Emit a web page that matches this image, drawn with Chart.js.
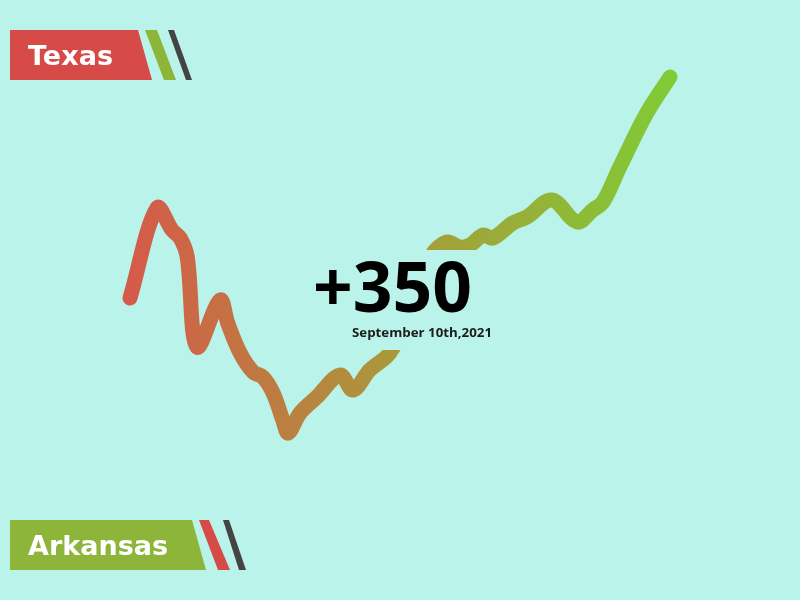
<!DOCTYPE html>
<html>
<head>
<meta charset="utf-8">
<script src="https://cdn.jsdelivr.net/npm/chart.js@4.4.0/dist/chart.umd.min.js"></script>
<style>
  html, body { margin: 0; padding: 0; background: #b9f3ea; }
  #wrap { width: 800px; height: 600px; position: relative; }
</style>
</head>
<body>
<div id="wrap"><canvas id="c"></canvas></div>
<script>
// Data
const days = [0, 5, 7.8, 9.3, 10.6, 12.4, 16.7, 18.1, 20.4, 22.8, 24.6, 26.5, 28.3, 29.3, 31.5, 34.6, 38.9, 41.3, 44.4, 48.1, 52.8, 55.9, 58.7, 61.1, 63, 65.4, 67.2, 70.9, 73.5, 78.1, 82.8, 85.7, 87.6, 90.7, 95.7, 100];
const values = [202, 292, 270, 262, 243, 153, 200, 177, 147, 128, 123, 107, 80, 67, 87, 103, 125, 110, 130, 147, 195, 245, 258, 253, 255, 265, 262, 277, 283, 300, 278, 290, 298, 333, 387, 423];
const topLabel = "Texas";
const bottomLabel = "Arkansas";
const headline = "+350";
const dateText = "September 10th,2021";

const BG = '#b9f3ea';
const RED = '#d64a47';
const GREEN = '#8db53a';
const DARK = '#444444';

const points = days.map((d, i) => ({ x: d, y: values[i] }));

function fitText(c, text, x, y, width, font) {
  c.save();
  c.font = font;
  const w = c.measureText(text).width;
  c.translate(x, y);
  c.scale(width / w, 1);
  c.fillText(text, 0, 0);
  c.restore();
}

const overlay = {
  id: 'overlay',
  beforeDraw(chart) {
    const c = chart.ctx;
    c.save();
    c.fillStyle = BG;
    c.fillRect(0, 0, chart.width, chart.height);
    c.restore();
  },
  afterDatasetsDraw(chart) {
    const c = chart.ctx;
    c.save();
    // cover box behind headline
    c.fillStyle = BG;
    c.fillRect(300, 250, 190, 100);

    c.fillStyle = '#000';
    c.textBaseline = 'alphabetic';
    c.textAlign = 'left';
    fitText(c, headline, 313, 312, 159, 'bold 70px "Open Sans", sans-serif');
    c.fillStyle = '#1c1c1c';
    fitText(c, dateText, 352, 337, 140, 'bold 13px "Open Sans", sans-serif');

    function poly(pts, col) {
      c.beginPath();
      c.moveTo(pts[0][0], pts[0][1]);
      for (let i = 1; i < pts.length; i++) c.lineTo(pts[i][0], pts[i][1]);
      c.closePath();
      c.fillStyle = col;
      c.fill();
    }
    poly([[10, 30], [138, 30], [152, 80], [10, 80]], RED);
    poly([[145, 30], [157, 30], [176, 80], [164, 80]], GREEN);
    poly([[168, 30], [174, 30], [192, 80], [186, 80]], DARK);

    poly([[10, 520], [192, 520], [206, 570], [10, 570]], GREEN);
    poly([[199, 520], [209, 520], [230, 570], [218, 570]], RED);
    poly([[223, 520], [229, 520], [246, 570], [239, 570]], DARK);

    c.fillStyle = '#ffffff';
    fitText(c, topLabel, 28, 65, 85, 'bold 27px "DejaVu Sans", sans-serif');
    fitText(c, bottomLabel, 28, 555, 140, 'bold 27px "DejaVu Sans", sans-serif');
    c.restore();
  }
};

new Chart(document.getElementById('c'), {
  type: 'line',
  data: {
    datasets: [{
      data: points,
      borderWidth: 15,
      borderCapStyle: 'round',
      borderJoinStyle: 'round',
      tension: 0.35,
      pointRadius: 0,
      fill: false,
      borderColor(ctx) {
        const ch = ctx.chart;
        const a = ch.chartArea;
        if (!a) return RED;
        const xs = ch.scales.x;
        const g = ch.ctx.createLinearGradient(xs.getPixelForValue(days[0]), 0, xs.getPixelForValue(days[days.length - 1]), 0);
        g.addColorStop(0, '#d55a49');
        g.addColorStop(0.5, '#a99a3a');
        g.addColorStop(1, '#80cb36');
        return g;
      }
    }]
  },
  options: {
    responsive: true,
    maintainAspectRatio: false,
    animation: false,
    layout: { padding: 0 },
    plugins: { legend: { display: false }, tooltip: { enabled: false } },
    scales: {
      x: { type: 'linear', display: false, min: -24.07, max: 124.07 },
      y: { display: false, min: -100, max: 500 }
    }
  },
  plugins: [overlay]
});
</script>
</body>
</html>
